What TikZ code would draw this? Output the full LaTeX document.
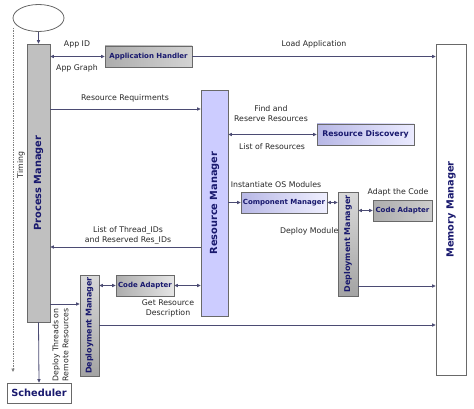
\documentclass[tikz,border=0pt]{standalone}
\usepackage{fontspec}
\setmainfont{DejaVu Sans}
\usetikzlibrary{arrows.meta,shapes.geometric}
\definecolor{navy}{RGB}{25,25,110}
\definecolor{lnc}{RGB}{75,75,115}
\definecolor{bdc}{RGB}{105,105,105}
\definecolor{grayfill}{RGB}{192,192,192}
\definecolor{lav}{RGB}{204,204,255}
\tikzset{
  box/.style={draw=bdc, line width=0.8pt, inner sep=0pt, text=navy,
    font=\bfseries\fontsize{7}{8}\selectfont},
  bigtxt/.style={font=\bfseries\fontsize{9.8}{11}\selectfont},
  midtxt/.style={font=\bfseries\fontsize{8}{9}\selectfont},
  lbl/.style={inner sep=0pt, text=black!85, align=center,
    font=\fontsize{7.8}{10}\selectfont},
  conn/.style={draw=lnc, line width=0.8pt},
  arr/.style={conn, -{Triangle[length=3.5pt,width=3.2pt]}},
  darr/.style={conn, {Triangle[length=3.5pt,width=3.2pt]}-{Triangle[length=3.5pt,width=3.2pt]}},
}
\begin{document}
\begin{tikzpicture}[x=1pt,y=-1pt]
\useasboundingbox (0,0) rectangle (474,409);
% nodes
\node[ellipse, draw=bdc, line width=0.8pt, fill=white, minimum width=51, minimum height=27, inner sep=0pt] (ell) at (38.5,18) {};
\node[box, bigtxt, rotate=90, fill=grayfill, minimum width=278, minimum height=23] (pm) at (38.5,183) {Process Manager};
\node[box, bigtxt, fill=white, minimum width=64, minimum height=20] (sch) at (39,393) {Scheduler};
\node[box, bigtxt, rotate=90, fill=white, minimum width=331, minimum height=30] (mm) at (451,209.5) {Memory Manager};
\node[box, left color=grayfill!90!black, right color=grayfill!70!white, minimum width=87, minimum height=21] (ah) at (148.5,56.5) {Application Handler};
\node[box, bigtxt, rotate=90, fill=lav, minimum width=226, minimum height=27] (rm) at (214.5,203) {Resource Manager};
\node[box, font=\bfseries\fontsize{7.8}{9}\selectfont, left color=lav!90!black, right color=lav!40!white, minimum width=97, minimum height=21] (rd) at (365.5,134.5) {Resource Discovery};
\node[box, left color=lav!90!black, right color=lav!30!white, minimum width=86, minimum height=21] (cm) at (284,202.5) {Component Manager};
\node[box, midtxt, rotate=90, top color=grayfill!60!white, bottom color=grayfill!85!black, minimum width=104, minimum height=20] (dmr) at (348,244) {Deployment Manager};
\node[box, left color=grayfill!90!black, right color=grayfill!80!white, minimum width=59, minimum height=21] (car) at (402.5,210.5) {Code Adapter};
\node[box, midtxt, rotate=90, top color=grayfill!60!white, bottom color=grayfill!85!black, minimum width=101, minimum height=19] (dml) at (89.5,325.5) {Deployment Manager};
\node[box, left color=grayfill!90!black, right color=grayfill!40!white, minimum width=58, minimum height=21] (cal) at (145,285.5) {Code Adapter};
% labels
\node[lbl] (l1) at (77,44) {App ID};
\node[lbl] (l2) at (77,68) {App Graph};
\node[lbl] (l3) at (314,44) {Load Application};
\node[lbl] (l4) at (125,98) {Resource Requirments};
\node[lbl] (l5) at (271,114) {Find and\\Reserve Resources};
\node[lbl] (l6) at (272,147) {List of Resources};
\node[lbl] (l7) at (276,185) {Instantiate OS Modules};
\node[lbl] (l8) at (398,192) {Adapt the Code};
\node[lbl, anchor=east] (l9) at (338.5,231) {Deploy Module};
\node[lbl] (l10) at (128,235.5) {List of Thread\_IDs\\and Reserved Res\_IDs};
\node[lbl] (l11) at (168,308) {Get Resource\\Description};
\node[lbl, rotate=90] (l12) at (21,165) {Timing};
\node[lbl, rotate=90] (l13) at (60.5,345) {Deploy Threads on\\Remote Resources};
% timing axis
\coordinate (t0) at (13,28);
\coordinate (t1) at (13,372);
\draw[draw=gray, line width=0.7pt, densely dotted, -{Triangle[length=3.5pt,width=3.2pt]}] (t0) -- (t1);
% connectors
\draw[arr] (ell.south) -- (pm.east);
\draw[darr] (pm.south |- ah.west) -- (ah.west);
\draw[arr] (ah.east) -- (mm.north |- ah.east);
\draw[arr] (pm.south |- 0,109) -- (rm.north |- 0,109);
\draw[darr] (rm.south |- rd.west) -- (rd.west);
\draw[arr] (rm.south |- cm.west) -- (cm.west);
\draw[darr] (cm.east) -- (dmr.north |- cm.east);
\draw[darr] (dmr.south |- car.west) -- (car.west);
\draw[arr] (dmr.south |- 0,286) -- (mm.north |- 0,286);
\draw[arr] (rm.north |- 0,247) -- (pm.south |- 0,247);
\draw[darr] (dml.south |- cal.west) -- (cal.west);
\draw[darr] (cal.east) -- (rm.north |- cal.east);
\draw[arr] (dml.south |- 0,325) -- (mm.north |- 0,325);
\draw[arr] (pm.south |- 0,304) -- (dml.north |- 0,304);
\draw[arr] (pm.west) -- (sch.north);
\end{tikzpicture}
\end{document}
